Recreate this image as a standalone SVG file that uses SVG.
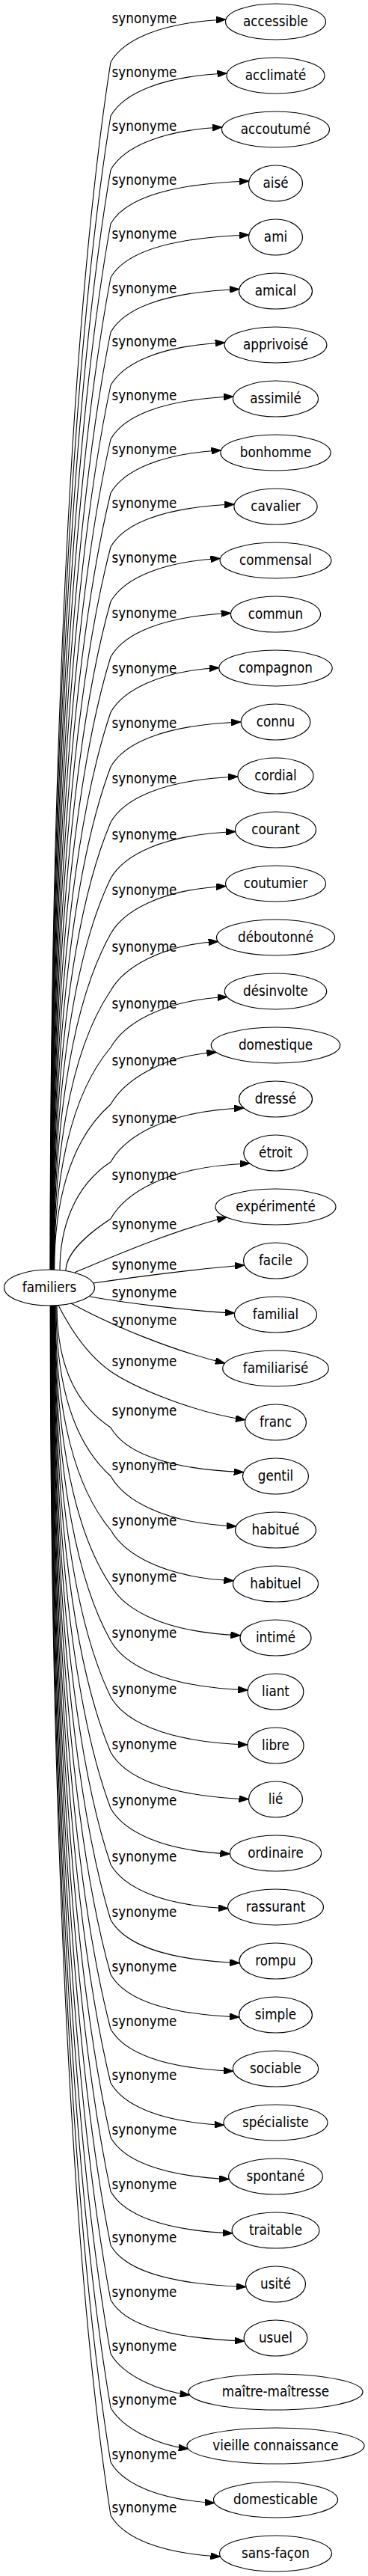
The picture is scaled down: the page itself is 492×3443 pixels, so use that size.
<svg xmlns="http://www.w3.org/2000/svg" width="492" height="3443" viewBox="0 0 492 3443">
<style>
text{font-family:'DejaVu Sans Condensed','DejaVu Sans',sans-serif;font-stretch:condensed;font-size:18.67px;fill:#000;text-anchor:middle}
ellipse{fill:none;stroke:#000;stroke-width:1.2}
#edges path{fill:none;stroke:#000;stroke-width:1.1;marker-end:url(#ah)}
</style>
<defs>
<marker id="ah" markerWidth="13" markerHeight="9" refX="13" refY="4.5" orient="auto" markerUnits="userSpaceOnUse"><path d="M0,0 L13,4.5 L0,9 z" fill="#000" stroke="#000" stroke-width="1"/></marker>
</defs>
<rect width="492" height="3443" fill="#fff"/>
<g id="edges">
<path d="M67,1697 C67,1100 90,454 148,83 C165,53 215,30 302,26"/>
<path d="M67.3,1697 C67.3,1126.5 90,509.7 148,155 C165,125 215,102 303.5,98"/>
<path d="M67.6,1697 C67.6,1153 90,565 148,227 C165,197 215,174 297.1,170"/>
<path d="M67.9,1697 C67.9,1179.7 90,620.5 148,299 C165,269 215,246 332.8,242"/>
<path d="M68.2,1697 C68.2,1206.4 90,676 148,371 C165,341 215,318 332.8,314"/>
<path d="M68.5,1697 C68.5,1233.4 90,732.2 148,444 C165,414 215,390.5 319.8,386.5"/>
<path d="M68.8,1697 C68.8,1259.7 90,786.9 148,515 C165,485 215,462 300.6,458"/>
<path d="M69.1,1697 C69.1,1286.3 90,842.3 148,587 C165,557 215,534 312,530"/>
<path d="M69.4,1697 C69.4,1312.9 90,897.7 148,659 C165,629 215,606 295.5,602"/>
<path d="M69.7,1697 C69.7,1339.6 90,953.2 148,731 C165,701 215,678 313.3,674"/>
<path d="M70,1697 C70,1366.6 90,1009.4 148,804 C165,774 215,750.5 294.5,746.5"/>
<path d="M70.3,1697 C70.3,1394 90,1066.4 148,878 C165,848 215,823.5 308.6,819.5"/>
<path d="M70.6,1697 C70.6,1421.3 90,1123.4 148,952 C165,922 215,896.5 292.8,892.5"/>
<path d="M70.9,1697 C70.9,1448.4 90,1179.6 148,1025 C165,995 215,969 322.1,965"/>
<path d="M71.2,1697 C71.2,1475.7 90,1236.5 148,1099 C165,1069 215,1042 318,1038"/>
<path d="M71.5,1697 C71.5,1503.5 90,1294.3 148,1174 C165,1144 215,1115.5 314.8,1111.5"/>
<path d="M71.8,1697 C71.8,1530.9 90,1351.3 148,1248 C165,1218 215,1188.5 302.2,1184.5"/>
<path d="M72.1,1697 C72.1,1559 90,1409.8 148,1324 C165,1294 215,1262.5 291.6,1258.5"/>
<path d="M72.4,1697 C72.4,1587.1 90,1468.3 148,1400 C165,1370 215,1336.5 303.7,1332.5"/>
<path d="M72.7,1697 C72.7,1615.2 90,1526.8 148,1476 C165,1446 215,1410.5 289.4,1406.5"/>
<path d="M80,1697.6 C80,1644.1 97.4,1586.3 148,1553 C165,1523 215,1485 326.1,1481"/>
<path d="M88,1698.4 C88,1672.7 123.7,1645 148,1629 C165,1599 215,1559 333.8,1555"/>
<path d="M100,1700.7 C150,1680 230,1645 303,1627"/>
<path d="M125,1715 C165,1709 260,1696 327,1691"/>
<path d="M120,1733 C165,1741 250,1752 313.7,1755"/>
<path d="M95,1742 C150,1772 230,1805 300.8,1822"/>
<path d="M78,1744.5 C95,1778 118,1812 148,1833 C180,1855 260,1888 327.9,1897.8"/>
<path d="M76,1744.6 C76,1805.3 91,1870.5 148,1908 C165,1938 215,1963.6 325.6,1967.6"/>
<path d="M75,1745 C75,1829.4 90,1920.6 148,1973 C165,2003 215,2036 315.7,2040"/>
<path d="M74,1745 C74,1856 90,1976 148,2045 C165,2075 215,2108.7 312.4,2112.7"/>
<path d="M73.6,1745 C73.6,1883.4 90,2033 148,2119 C165,2149 215,2181.8 321.4,2185.8"/>
<path d="M73.2,1745 C73.2,1910.8 90,2090 148,2193 C165,2223 215,2254.9 331.3,2258.9"/>
<path d="M72.9,1745 C72.9,1938.5 90,2147.7 148,2268 C165,2298 215,2328 330.9,2332"/>
<path d="M72.5,1745 C72.5,1965.9 90,2204.7 148,2342 C165,2372 215,2400.7 332.5,2404.7"/>
<path d="M72.1,1745 C72.1,1993.6 90,2262.4 148,2417 C165,2447 215,2473.8 307.4,2477.8"/>
<path d="M71.7,1745 C71.7,2021.4 90,2320.2 148,2492 C165,2522 215,2546.8 304.8,2550.8"/>
<path d="M71.3,1745 C71.3,2048.8 90,2377.2 148,2566 C165,2596 215,2619.6 320.3,2623.6"/>
<path d="M71,1745 C71,2075.8 90,2433.4 148,2639 C165,2669 215,2691.9 319.9,2695.9"/>
<path d="M70.6,1745 C70.6,2102.8 90,2489.6 148,2712 C165,2742 215,2764.3 311.9,2768.3"/>
<path d="M70.2,1745 C70.2,2129.4 90,2545 148,2784 C165,2814 215,2836.3 299.7,2840.3"/>
<path d="M69.8,1745 C69.8,2156.4 90,2601.2 148,2857 C165,2887 215,2908.6 306.3,2912.6"/>
<path d="M69.4,1745 C69.4,2183.1 90,2656.7 148,2929 C165,2959 215,2981 310.9,2985"/>
<path d="M69.1,1745 C69.1,2209.7 90,2712.1 148,3001 C165,3031 215,3052.6 329,3056.6"/>
<path d="M68.7,1745 C68.7,2236.7 90,2768.3 148,3074 C165,3104 215,3125 326.7,3129"/>
<path d="M68.3,1745 C68.3,2263.4 90,2823.8 148,3146 C165,3176 215,3197 253.6,3201"/>
<path d="M67.9,1745 C67.9,2290 90,2879.2 148,3218 C165,3248 215,3269 251.7,3273"/>
<path d="M67.5,1745 C67.5,2317 90,2935.4 148,3291 C165,3321 215,3341.4 286.9,3345.4"/>
<path d="M67.2,1745 C67.2,2343.3 90,2990.1 148,3362 C165,3392 215,3413 294.5,3417"/>
</g>
<g id="edge-labels">
<text x="193" y="31">synonyme</text>
<text x="193" y="103">synonyme</text>
<text x="193" y="175">synonyme</text>
<text x="193" y="247">synonyme</text>
<text x="193" y="319">synonyme</text>
<text x="193" y="392">synonyme</text>
<text x="193" y="463">synonyme</text>
<text x="193" y="535">synonyme</text>
<text x="193" y="607">synonyme</text>
<text x="193" y="679">synonyme</text>
<text x="193" y="752">synonyme</text>
<text x="193" y="826">synonyme</text>
<text x="193" y="900">synonyme</text>
<text x="193" y="973">synonyme</text>
<text x="193" y="1047">synonyme</text>
<text x="193" y="1122">synonyme</text>
<text x="193" y="1196">synonyme</text>
<text x="193" y="1272">synonyme</text>
<text x="193" y="1348">synonyme</text>
<text x="193" y="1424">synonyme</text>
<text x="193" y="1501">synonyme</text>
<text x="193" y="1577">synonyme</text>
<text x="193" y="1643">synonyme</text>
<text x="193" y="1697">synonyme</text>
<text x="193" y="1734">synonyme</text>
<text x="193" y="1771">synonyme</text>
<text x="193" y="1826">synonyme</text>
<text x="193" y="1892">synonyme</text>
<text x="193" y="1965">synonyme</text>
<text x="193" y="2039">synonyme</text>
<text x="193" y="2114">synonyme</text>
<text x="193" y="2189">synonyme</text>
<text x="193" y="2264">synonyme</text>
<text x="193" y="2338">synonyme</text>
<text x="193" y="2413">synonyme</text>
<text x="193" y="2488">synonyme</text>
<text x="193" y="2562">synonyme</text>
<text x="193" y="2635">synonyme</text>
<text x="193" y="2708">synonyme</text>
<text x="193" y="2780">synonyme</text>
<text x="193" y="2853">synonyme</text>
<text x="193" y="2926">synonyme</text>
<text x="193" y="2997">synonyme</text>
<text x="193" y="3070">synonyme</text>
<text x="193" y="3142">synonyme</text>
<text x="193" y="3214">synonyme</text>
<text x="193" y="3287">synonyme</text>
<text x="193" y="3358">synonyme</text>
</g>
<g id="familiers"><ellipse cx="66" cy="1721" rx="60.5" ry="24"/><text x="66" y="1726.6">familiers</text></g>
<g id="n0"><ellipse cx="368.5" cy="29" rx="67" ry="24"/><text x="368.5" y="34.6">accessible</text></g>
<g id="n1"><ellipse cx="368.5" cy="101" rx="65.5" ry="24"/><text x="368.5" y="106.6">acclimaté</text></g>
<g id="n2"><ellipse cx="368.5" cy="173" rx="72" ry="24"/><text x="368.5" y="178.6">accoutumé</text></g>
<g id="n3"><ellipse cx="368.5" cy="245" rx="36" ry="24"/><text x="368.5" y="250.6">aisé</text></g>
<g id="n4"><ellipse cx="368.5" cy="317" rx="36" ry="24"/><text x="368.5" y="322.6">ami</text></g>
<g id="n5"><ellipse cx="368.5" cy="389" rx="49" ry="24"/><text x="368.5" y="394.6">amical</text></g>
<g id="n6"><ellipse cx="368.5" cy="461" rx="68.4" ry="24"/><text x="368.5" y="466.6">apprivoisé</text></g>
<g id="n7"><ellipse cx="368.5" cy="533" rx="57" ry="24"/><text x="368.5" y="538.6">assimilé</text></g>
<g id="n8"><ellipse cx="368.5" cy="605" rx="73.6" ry="24"/><text x="368.5" y="610.6">bonhomme</text></g>
<g id="n9"><ellipse cx="368.5" cy="677" rx="55.6" ry="24"/><text x="368.5" y="682.6">cavalier</text></g>
<g id="n10"><ellipse cx="368.5" cy="749" rx="74.4" ry="24"/><text x="368.5" y="754.6">commensal</text></g>
<g id="n11"><ellipse cx="368.5" cy="821" rx="60" ry="24"/><text x="368.5" y="826.6">commun</text></g>
<g id="n12"><ellipse cx="368.5" cy="893" rx="75.7" ry="24"/><text x="368.5" y="898.6">compagnon</text></g>
<g id="n13"><ellipse cx="368.5" cy="965" rx="46.4" ry="24"/><text x="368.5" y="970.6">connu</text></g>
<g id="n14"><ellipse cx="368.5" cy="1037" rx="50.5" ry="24"/><text x="368.5" y="1042.6">cordial</text></g>
<g id="n15"><ellipse cx="368.5" cy="1109" rx="54" ry="24"/><text x="368.5" y="1114.6">courant</text></g>
<g id="n16"><ellipse cx="368.5" cy="1181" rx="67" ry="24"/><text x="368.5" y="1186.6">coutumier</text></g>
<g id="n17"><ellipse cx="368.5" cy="1253" rx="79" ry="24"/><text x="368.5" y="1258.6">déboutonné</text></g>
<g id="n18"><ellipse cx="368.5" cy="1325" rx="68.2" ry="24"/><text x="368.5" y="1330.6">désinvolte</text></g>
<g id="n19"><ellipse cx="368.5" cy="1397" rx="86.2" ry="24"/><text x="368.5" y="1402.6">domestique</text></g>
<g id="n20"><ellipse cx="368.5" cy="1469" rx="49" ry="24"/><text x="368.5" y="1474.6">dressé</text></g>
<g id="n21"><ellipse cx="368.5" cy="1541" rx="42.7" ry="24"/><text x="368.5" y="1546.6">étroit</text></g>
<g id="n22"><ellipse cx="368.5" cy="1613" rx="80.5" ry="24"/><text x="368.5" y="1618.6">expérimenté</text></g>
<g id="n23"><ellipse cx="368.5" cy="1685" rx="43" ry="24"/><text x="368.5" y="1690.6">facile</text></g>
<g id="n24"><ellipse cx="368.5" cy="1757" rx="55" ry="24"/><text x="368.5" y="1762.6">familial</text></g>
<g id="n25"><ellipse cx="368.5" cy="1829" rx="70.8" ry="24"/><text x="368.5" y="1834.6">familiarisé</text></g>
<g id="n26"><ellipse cx="368.5" cy="1901" rx="41" ry="24"/><text x="368.5" y="1906.6">franc</text></g>
<g id="n27"><ellipse cx="368.5" cy="1973" rx="44" ry="24"/><text x="368.5" y="1978.6">gentil</text></g>
<g id="n28"><ellipse cx="368.5" cy="2045" rx="54" ry="24"/><text x="368.5" y="2050.6">habitué</text></g>
<g id="n29"><ellipse cx="368.5" cy="2117" rx="57" ry="24"/><text x="368.5" y="2122.6">habituel</text></g>
<g id="n30"><ellipse cx="368.5" cy="2189" rx="47.5" ry="24"/><text x="368.5" y="2194.6">intimé</text></g>
<g id="n31"><ellipse cx="368.5" cy="2261" rx="37.4" ry="24"/><text x="368.5" y="2266.6">liant</text></g>
<g id="n32"><ellipse cx="368.5" cy="2333" rx="37.6" ry="24"/><text x="368.5" y="2338.6">libre</text></g>
<g id="n33"><ellipse cx="368.5" cy="2405" rx="36" ry="24"/><text x="368.5" y="2410.6">lié</text></g>
<g id="n34"><ellipse cx="368.5" cy="2477" rx="61.1" ry="24"/><text x="368.5" y="2482.6">ordinaire</text></g>
<g id="n35"><ellipse cx="368.5" cy="2549" rx="63.9" ry="24"/><text x="368.5" y="2554.6">rassurant</text></g>
<g id="n36"><ellipse cx="368.5" cy="2621" rx="48.5" ry="24"/><text x="368.5" y="2626.6">rompu</text></g>
<g id="n37"><ellipse cx="368.5" cy="2693" rx="48.9" ry="24"/><text x="368.5" y="2698.6">simple</text></g>
<g id="n38"><ellipse cx="368.5" cy="2765" rx="57.1" ry="24"/><text x="368.5" y="2770.6">sociable</text></g>
<g id="n39"><ellipse cx="368.5" cy="2837" rx="69.5" ry="24"/><text x="368.5" y="2842.6">spécialiste</text></g>
<g id="n40"><ellipse cx="368.5" cy="2909" rx="62.9" ry="24"/><text x="368.5" y="2914.6">spontané</text></g>
<g id="n41"><ellipse cx="368.5" cy="2981" rx="58.4" ry="24"/><text x="368.5" y="2986.6">traitable</text></g>
<g id="n42"><ellipse cx="368.5" cy="3053" rx="40" ry="24"/><text x="368.5" y="3058.6">usité</text></g>
<g id="n43"><ellipse cx="368.5" cy="3125" rx="42.4" ry="24"/><text x="368.5" y="3130.6">usuel</text></g>
<g id="n44"><ellipse cx="368.5" cy="3197" rx="116.5" ry="24"/><text x="368.5" y="3202.6">maître-maîtresse</text></g>
<g id="n45"><ellipse cx="368.5" cy="3269" rx="118.5" ry="24"/><text x="368.5" y="3274.6">vieille connaissance</text></g>
<g id="n46"><ellipse cx="368.5" cy="3341" rx="83" ry="24"/><text x="368.5" y="3346.6">domesticable</text></g>
<g id="n47"><ellipse cx="368.5" cy="3413" rx="75" ry="24"/><text x="368.5" y="3418.6">sans-façon</text></g>
</svg>
